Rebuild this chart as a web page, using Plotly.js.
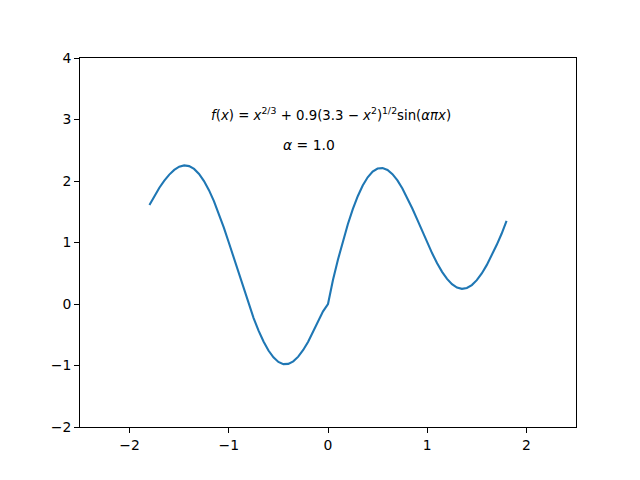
<!DOCTYPE html>
<html>
<head>
<meta charset="utf-8">
<script src="https://cdn.plot.ly/plotly-3.0.1.min.js"></script>
<style>html,body{margin:0;padding:0;background:#fff;}#chart{width:640px;height:480px;}</style>
</head>
<body>
<div id="chart"></div>
<script>
// x values (step 0.05 from -1.8 to 1.8)
const xValues = [
-1.8,-1.75,-1.7,-1.65,-1.6,-1.55,-1.5,-1.45,-1.4,-1.35,-1.3,-1.25,-1.2,-1.15,-1.1,-1.05,
-1.0,-0.95,-0.9,-0.85,-0.8,-0.75,-0.7,-0.65,-0.6,-0.55,-0.5,-0.45,-0.4,-0.35,-0.3,-0.25,
-0.2,-0.15,-0.1,-0.05,0,0.05,0.1,0.15,0.2,0.25,0.3,0.35,0.4,0.45,0.5,0.55,0.6,0.65,0.7,
0.75,0.8,0.85,0.9,0.95,1.0,1.05,1.1,1.15,1.2,1.25,1.3,1.35,1.4,1.45,1.5,1.55,1.6,1.65,
1.7,1.75,1.8];
// curve values
const yValues = [
1.609,1.762,1.891,2.006,2.104,2.181,2.233,2.254,2.242,2.196,2.115,1.999,1.851,1.672,1.468,1.242,
1.000,0.749,0.493,0.241,-0.001,-0.228,-0.432,-0.610,-0.756,-0.868,-0.942,-0.977,-0.974,-0.933,-0.856,-0.748,
-0.613,-0.457,-0.289,-0.120,0.000,0.391,0.720,1.022,1.297,1.542,1.753,1.926,2.060,2.152,2.202,2.210,2.179,2.111,2.009,
1.879,1.725,1.553,1.371,1.184,1.000,0.824,0.664,0.523,0.408,0.322,0.267,0.247,0.261,0.308,0.388,0.497,0.632,0.787,
0.958,1.142,1.350];
const xTicks = [-2,-1,0,1,2];
const yTicks = [-2,-1,0,1,2,3,4];
const formulaText = '<i>f</i>(<i>x</i>) = <i>x</i><sup>2/3</sup> + 0.9(3.3 − <i>x</i><sup>2</sup>)<sup>1/2</sup>sin(<i>απx</i>)';
const alphaText = '<i>α</i> = 1.0';

const font = {family: 'DejaVu Sans, sans-serif', size: 13.9, color: '#000'};
const formulaFont = {family: 'DejaVu Sans, sans-serif', size: 13.3, color: '#000'};
const axisCommon = {
  showgrid: false, zeroline: false, showline: true, mirror: true,
  linecolor: '#000', linewidth: 1, ticks: 'outside', ticklen: 4.9,
  tickwidth: 1, tickcolor: '#000', tickfont: font
};
Plotly.newPlot('chart', [{
  x: xValues, y: yValues, type: 'scatter', mode: 'lines',
  line: {color: '#1f77b4', width: 2.1}, hoverinfo: 'none'
}], {
  width: 640, height: 480,
  margin: {l: 80, r: 64, t: 58, b: 53, pad: 0},
  paper_bgcolor: '#fff', plot_bgcolor: '#fff',
  showlegend: false, font: font,
  xaxis: Object.assign({}, axisCommon, {range: [-2.5, 2.5], tickvals: xTicks}),
  yaxis: Object.assign({}, axisCommon, {range: [-2, 4], tickvals: yTicks}),
  annotations: [
    {x: 0.03, y: 3.09, xref: 'x', yref: 'y', text: formulaText, showarrow: false, font: formulaFont, xanchor: 'center', yanchor: 'middle'},
    {x: -0.19, y: 2.585, xref: 'x', yref: 'y', text: alphaText, showarrow: false, font: font, xanchor: 'center', yanchor: 'middle'}
  ]
}, {staticPlot: true});
</script>
</body>
</html>
